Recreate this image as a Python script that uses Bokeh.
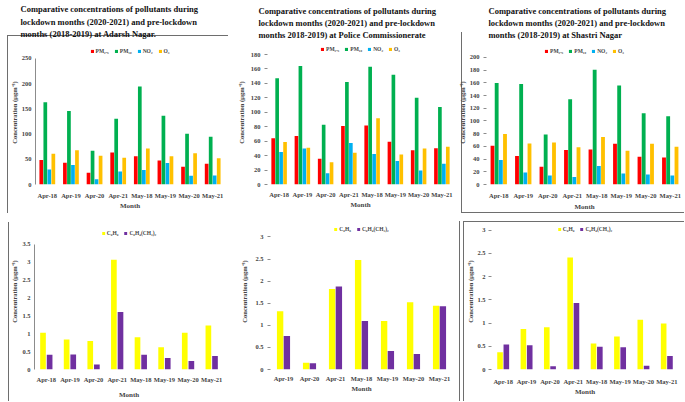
from bokeh.plotting import figure
from bokeh.models import (Range1d, FactorRange, Legend, LegendItem, FixedTicker,
                          ColumnDataSource, CustomJSTickFormatter, Title)
from bokeh.transform import dodge
from bokeh.layouts import column, row
from bokeh.embed import file_html
from bokeh.resources import INLINE

# ---------------- data ----------------
months = ["Apr-18", "Apr-19", "Apr-20", "Apr-21", "May-18", "May-19", "May-20", "May-21"]
months_police_voc = ["Apr-19", "Apr-20", "Apr-21", "May-18", "May-19", "May-20", "May-21"]

criteria_labels = ["PM\u2082.\u2085", "PM\u2081\u2080", "NO\u2082", "O\u2083"]
voc_labels = ["C\u2086H\u2086", "C\u2086H\u2084(CH\u2083)\u2082"]

adarsh_pm25 = [48.5, 43.0, 23.3, 63.3, 55.9, 47.3, 35.0, 41.2]
adarsh_pm10 = [162.8, 145.6, 67.0, 130.0, 194.0, 136.4, 100.7, 94.6]
adarsh_no2 = [29.5, 38.7, 10.4, 25.8, 28.9, 42.4, 17.2, 17.8]
adarsh_o3 = [60.8, 67.6, 57.0, 52.8, 71.3, 55.9, 62.0, 52.2]

police_pm25 = [64.0, 67.0, 35.5, 81.0, 81.8, 59.3, 47.6, 50.2]
police_pm10 = [147.0, 164.0, 82.6, 142.0, 163.0, 152.0, 120.0, 107.3]
police_no2 = [45.0, 49.8, 15.6, 57.5, 42.4, 32.5, 19.5, 28.6]
police_o3 = [58.8, 51.0, 30.7, 44.0, 91.7, 41.5, 49.8, 52.4]

shastri_pm25 = [61.0, 44.8, 28.0, 54.2, 55.2, 64.0, 43.8, 42.4]
shastri_pm10 = [159.6, 158.0, 78.8, 134.0, 180.8, 155.7, 112.3, 107.4]
shastri_no2 = [38.4, 18.7, 14.3, 11.8, 29.0, 17.2, 15.8, 14.3]
shastri_o3 = [79.3, 64.5, 66.0, 58.6, 74.9, 53.2, 64.0, 59.6]

adarsh_benzene = [1.03, 0.84, 0.80, 3.07, 0.90, 0.62, 1.03, 1.23]
adarsh_xylene = [0.41, 0.42, 0.14, 1.61, 0.41, 0.32, 0.24, 0.38]

police_benzene = [1.32, 0.15, 1.82, 2.48, 1.10, 1.52, 1.44]
police_xylene = [0.76, 0.14, 1.88, 1.10, 0.42, 0.35, 1.43]

shastri_benzene = [0.37, 0.87, 0.91, 2.41, 0.56, 0.71, 1.07, 0.99]
shastri_xylene = [0.54, 0.52, 0.07, 1.43, 0.49, 0.48, 0.08, 0.29]

title_adarsh = ["Comparative concentrations of pollutants during",
                "lockdown months (2020-2021) and pre-lockdown",
                "months (2018-2019) at Adarsh Nagar."]
title_police = ["Comparative concentrations of pollutants during",
                "lockdown months (2020-2021) and pre-lockdown",
                "months 2018-2019) at Police Commissionerate"]
title_shastri = ["Comparative concentrations of pollutants during",
                 "lockdown months (2020-2021) and pre-lockdown",
                 "months (2018-2019) at  Shastri Nagar"]

criteria_colors = ["#FF0000", "#00B050", "#00B0F0", "#FFC000"]
voc_colors = ["#FFFF00", "#7030A0"]

SERIF = "Liberation Serif"
YLABEL = "Concentration (\u03bcgm\u207b\u00b3)"
LINE = "linear-gradient(#6e6e6e, #6e6e6e)"


def frame_css(lines):
    """lines: list of (x, y, w, h) CSS strings -> background-drawn frame lines"""
    return {
        "background-image": ", ".join([LINE] * len(lines)),
        "background-size": ", ".join("%s %s" % (w, h) for x, y, w, h in lines),
        "background-position": ", ".join("%s %s" % (x, y) for x, y, w, h in lines),
        "background-repeat": "no-repeat",
    }


def chart(W, H, cats, series, colors, labels, tick_max, tick_step, top_border,
          top_px, bottom_px, left_px, right_px, bar_w, offsets, legend_c, axis_line,
          tick_marks, lab_standoff, xlab_standoff, ylab_standoff=1, ytick_standoff=4,
          titles=None, title_offset=0, title_standoff=0, styles=None):
    frame_h = H - top_border - bottom_px
    y_end = tick_max * frame_h / (frame_h - top_px)
    kw = dict(styles=styles) if styles else {}
    p = figure(width=W, height=H, x_range=FactorRange(factors=cats),
               y_range=Range1d(0, y_end), output_backend="svg", toolbar_location=None,
               min_border_left=left_px, min_border_right=right_px,
               min_border_top=top_border, min_border_bottom=bottom_px,
               outline_line_color=None, border_fill_color=None,
               background_fill_color=None, **kw)
    if titles:
        p.add_layout(Title(text="\n".join(titles), align="left",
                           offset=title_offset - left_px, standoff=title_standoff,
                           text_font=SERIF, text_font_style="bold",
                           text_font_size="8.5px", text_line_height=1.24,
                           text_color="#111111"), "above")
    src = {"month": cats}
    for i, s in enumerate(series):
        src["s%d" % i] = s
    source = ColumnDataSource(src)
    items = []
    for i, (col, lab) in enumerate(zip(colors, labels)):
        r = p.vbar(x=dodge("month", offsets[i], range=p.x_range), top="s%d" % i,
                   width=bar_w, source=source, fill_color=col, line_color=None)
        items.append(LegendItem(label=lab, renderers=[r]))
    lg = Legend(items=items, location="top_center", orientation="horizontal",
                label_text_font=SERIF, label_text_font_style="bold",
                label_text_font_size="5.5px", glyph_width=4, glyph_height=4,
                label_height=6, label_width=1, spacing=5, padding=0,
                margin=max(0, int(round(legend_c - 3))), border_line_color=None,
                background_fill_alpha=0, label_standoff=2)
    p.add_layout(lg)
    n = int(round(tick_max / tick_step))
    p.yaxis.ticker = FixedTicker(ticks=[i * tick_step for i in range(n + 1)])
    p.yaxis.formatter = CustomJSTickFormatter(code="return String(Math.round(tick*100)/100);")
    p.yaxis.bounds = (0, tick_max)
    p.yaxis.axis_label = YLABEL
    p.yaxis.axis_label_text_font = SERIF
    p.yaxis.axis_label_text_font_style = "bold"
    p.yaxis.axis_label_text_font_size = "6.5px"
    p.yaxis.axis_label_standoff = ylab_standoff
    p.yaxis.major_label_text_font = SERIF
    p.yaxis.major_label_text_font_style = "bold"
    p.yaxis.major_label_text_font_size = "6.5px"
    p.yaxis.major_label_standoff = ytick_standoff
    p.yaxis.minor_tick_line_color = None
    p.yaxis.axis_line_color = "#8c8c8c" if axis_line else None
    p.yaxis.major_tick_line_color = "#8c8c8c" if tick_marks else None
    p.yaxis.major_tick_in = 0
    p.yaxis.major_tick_out = 3 if tick_marks else 0
    p.xaxis.axis_label = "Month"
    p.xaxis.axis_label_text_font = SERIF
    p.xaxis.axis_label_text_font_style = "bold"
    p.xaxis.axis_label_text_font_size = "7px"
    p.xaxis.axis_label_standoff = xlab_standoff
    p.xaxis.major_label_text_font = SERIF
    p.xaxis.major_label_text_font_style = "bold"
    p.xaxis.major_label_text_font_size = "6.5px"
    p.xaxis.major_label_standoff = lab_standoff
    p.xaxis.axis_line_color = None
    p.xaxis.major_tick_line_color = None
    p.xaxis.major_tick_out = 0
    p.xaxis.major_tick_in = 0
    p.xaxis.minor_tick_line_color = None
    p.grid.visible = False
    return p


OFF4 = [-0.255, -0.085, 0.085, 0.255]
TOP_H = 213
BOT_H = 188

c1 = chart(228, TOP_H, months, [adarsh_pm25, adarsh_pm10, adarsh_no2, adarsh_o3],
           criteria_colors, criteria_labels, 250, 50, 34, 19, 25, 35, 4, 0.157, OFF4,
           11, True, False, 7, 0, titles=title_adarsh, title_offset=20, title_standoff=3,
           styles=frame_css([("7px", "35px", "100%", "1px"),
                             ("7px", "35px", "1px", "100%")]))
c2 = chart(227, TOP_H, months, [police_pm25, police_pm10, police_no2, police_o3],
           criteria_colors, criteria_labels, 180, 20, 35, 15, 24, 39, 2, 0.157, OFF4,
           9, False, True, 6, 0, ylab_standoff=3, titles=title_police, title_offset=30)
c3 = chart(229, TOP_H, months, [shastri_pm25, shastri_pm10, shastri_no2, shastri_o3],
           criteria_colors, criteria_labels, 200, 20, 32, 18, 28, 31, 2, 0.157, OFF4,
           11, False, True, 7, 1, titles=title_shastri, title_offset=33,
           styles=frame_css([("6px", "32px", "1px", "100%"),
                             ("6px", "100%", "100%", "1px")]))

c4 = chart(228, BOT_H, months, [adarsh_benzene, adarsh_xylene], voc_colors, voc_labels,
           3.5, 0.5, 0, 31, 31, 34, 5, 0.24, [-0.14, 0.14], 20, True, False, 6, 5,
           styles=frame_css([("8px", "9px", "1px", "100%")]))
c5 = chart(227, BOT_H, months_police_voc, [police_benzene, police_xylene], voc_colors,
           voc_labels, 3, 0.5, 0, 24, 28, 42, 3, 0.245, [-0.13, 0.13], 16, False, True,
           5, 0, ylab_standoff=4)
c6 = chart(229, BOT_H, months, [shastri_benzene, shastri_xylene], voc_colors, voc_labels,
           3, 0.5, 0, 17, 28, 36, 6, 0.24, [-0.135, 0.135], 16, False, True, 8, 0,
           ylab_standoff=0, ytick_standoff=3,
           styles=frame_css([("4px", "8px", "1px", "100%"),
                             ("8px", "8px", "1px", "100%"),
                             ("8px", "8px", "100%", "1px")]))

layout = column(row(c1, c2, c3), row(c4, c5, c6))

open("out.html", "w").write(file_html(layout, INLINE))
